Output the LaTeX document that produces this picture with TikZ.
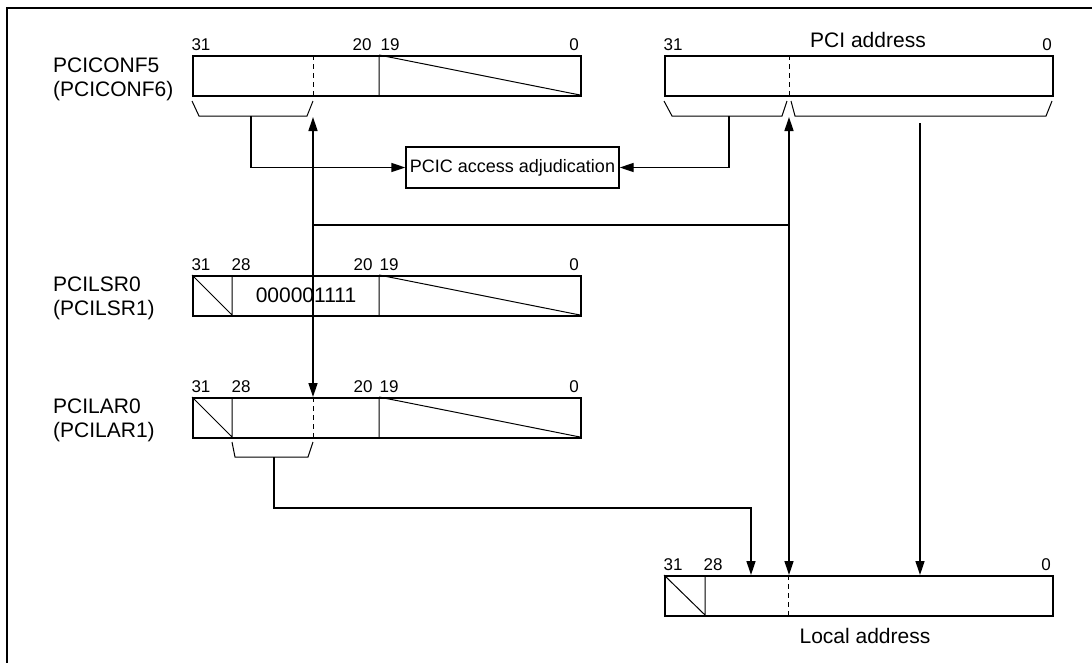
\documentclass[tikz,border=0pt]{standalone}
\usepackage{fontspec}
\setmainfont{Liberation Sans}
\usetikzlibrary{arrows.meta}
\begin{document}
\begin{tikzpicture}[x=1pt,y=-1pt,
  regbox/.style={draw, line width=1.6pt, minimum width=388pt, minimum height=40pt, inner sep=0pt, anchor=north west},
  sepline/.style={line width=1pt},
  dashline/.style={line width=1pt, dash pattern=on 5pt off 4pt},
  bracket/.style={line width=1pt},
  conn/.style={line width=1.4pt},
  tipend/.style={-{Triangle[length=14pt,width=9pt]}},
  bothend/.style={{Triangle[length=14pt,width=9pt]}-{Triangle[length=14pt,width=9pt]}},
  big/.style={font=\fontsize{21}{25}\selectfont, inner sep=0pt},
  num/.style={font=\fontsize{17}{20}\selectfont, inner sep=0pt, anchor=base},
]
\useasboundingbox (0,0) rectangle (1092,662);
\draw[line width=2.4pt] (7,8) rectangle (1110,680);

% register boxes
\node[regbox] (conf) at (192,55) {};
\node[regbox] (pci) at (664,55) {};
\node[regbox] (lsr) at (192,275) {};
\node[regbox] (lar) at (192,397) {};
\node[regbox] (loc) at (664,575) {};
\node[draw, line width=1.4pt, minimum width=213pt, minimum height=41pt, inner sep=0pt,
      font=\fontsize{18}{21}\selectfont] (pcic) at (512.5,167.5) {PCIC access adjudication};

% left labels
\node[big, anchor=base west] (l1a) at (53,72) {PCICONF5};
\node[big, anchor=base west] (l1b) at (53,96) {(PCICONF6)};
\node[big, anchor=base west] (l2a) at (53,291) {PCILSR0};
\node[big, anchor=base west] (l2b) at (53,315) {(PCILSR1)};
\node[big, anchor=base west] (l3a) at (53,413) {PCILAR0};
\node[big, anchor=base west] (l3b) at (53,437) {(PCILAR1)};
\node[big, anchor=base] (pcit) at (868,47) {PCI address};
\node[big, anchor=base] (loct) at (865,643) {Local address};
\node[big, anchor=base] (lsrv) at (306,302) {000001111};

% bit numbers
\node[num] (c31) at (201,50) {31};
\node[num] (c20) at (362,50) {20};
\node[num] (c19) at (390,50) {19};
\node[num] (c0) at (574,50) {0};
\node[num] (p31) at (673,50) {31};
\node[num] (p0) at (1047,50) {0};
\node[num] (s31) at (201,270) {31};
\node[num] (s28) at (241,270) {28};
\node[num] (s20) at (363,270) {20};
\node[num] (s19) at (389,270) {19};
\node[num] (s0) at (574,270) {0};
\node[num] (a31) at (201,392) {31};
\node[num] (a28) at (241,392) {28};
\node[num] (a20) at (363,392) {20};
\node[num] (a19) at (389,392) {19};
\node[num] (a0) at (574,392) {0};
\node[num] (o31) at (673,570) {31};
\node[num] (o28) at (713,570) {28};
\node[num] (o0) at (1046,570) {0};

% internal lines
\draw[sepline] (379,55) -- (379,95) (379,55) -- (580,95);
\draw[dashline] (313,55) -- (313,95);
\draw[dashline] (789,55) -- (789,95);
\draw[sepline] (232,275) -- (232,315) (192,275) -- (232,315) (379,275) -- (379,315) (379,275) -- (580,315);
\draw[sepline] (232,397) -- (232,437) (192,397) -- (232,437) (379,397) -- (379,437) (379,397) -- (580,437);
\draw[dashline] (313,397) -- (313,437);
\draw[sepline] (705,575) -- (705,615) (664,575) -- (705,615);
\draw[dashline] (788,575) -- (788,615);

% brackets
\draw[bracket] (192,101) -- (199,116) -- (307,116) -- (313,101);
\draw[bracket] (664,101) -- (672,116) -- (782,116) -- (787,101);
\draw[bracket] (791,101) -- (795,116) -- (1046,116) -- (1052,101);
\draw[bracket] (232,442) -- (235,457) -- (308,457) -- (313,442);

% connectors
\coordinate (cb) at (251,116);
\coordinate (pb) at (729,116);
\coordinate (t1) at (313,117);
\coordinate (t2) at (789,117);
\coordinate (lb) at (274,457);
\coordinate (lbend) at (274,508);
\coordinate (lend) at (751,575);
\coordinate (pr) at (920,123);
\coordinate (h1) at (313,225);
\coordinate (h2) at (789,225);

\draw[conn, tipend] (cb) |- (pcic.west);
\draw[conn, tipend] (pb) |- (pcic.east);
\draw[conn, bothend] (t1) -- (t1 |- lar.north);
\draw[conn, bothend] (t2) -- (t2 |- loc.north);
\draw[conn] (h1) -- (h2);
\draw[conn, tipend] (lb) -- (lbend) -| (lend);
\draw[conn, tipend] (pr) -- (pr |- loc.north);
\end{tikzpicture}
\end{document}
